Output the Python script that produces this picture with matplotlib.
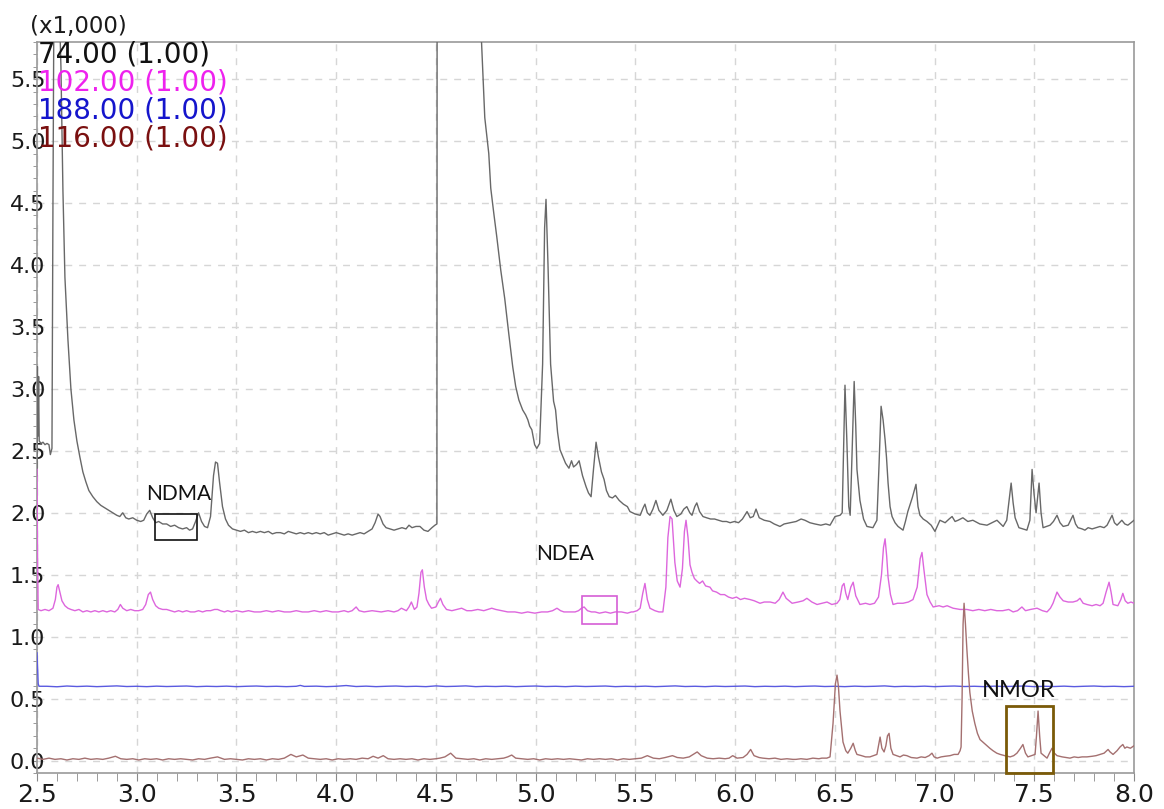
import matplotlib
matplotlib.use("Agg")
import matplotlib.pyplot as plt
from matplotlib.patches import Rectangle
from matplotlib.ticker import MultipleLocator, FormatStrFormatter

# retention time (min) / intensity (x1,000) for each monitored ion
tic74_t = [2.500, 2.502, 2.505, 2.508, 2.511, 2.520, 2.530, 2.540, 2.550, 2.560, 2.567, 2.575, 2.580, 2.585,
           2.610, 2.620, 2.630, 2.640, 2.655, 2.670, 2.685, 2.700, 2.715, 2.730, 2.745, 2.760, 2.780, 2.800,
           2.820, 2.840, 2.860, 2.880, 2.900, 2.915, 2.930, 2.945, 2.960, 2.980, 3.000, 3.020, 3.035, 3.050,
           3.065, 3.080, 3.095, 3.110, 3.130, 3.150, 3.170, 3.190, 3.210, 3.230, 3.250, 3.265, 3.280, 3.295,
           3.310, 3.325, 3.340, 3.355, 3.370, 3.385, 3.395, 3.405, 3.415, 3.430, 3.445, 3.460, 3.480, 3.500,
           3.520, 3.540, 3.560, 3.580, 3.600, 3.620, 3.640, 3.660, 3.680, 3.700, 3.720, 3.740, 3.760, 3.780,
           3.800, 3.820, 3.840, 3.860, 3.880, 3.900, 3.920, 3.940, 3.960, 3.980, 4.000, 4.020, 4.040, 4.060,
           4.080, 4.100, 4.120, 4.140, 4.160, 4.180, 4.195, 4.210, 4.220, 4.235, 4.250, 4.270, 4.290, 4.310,
           4.330, 4.350, 4.365, 4.380, 4.400, 4.420, 4.440, 4.460, 4.480, 4.495, 4.505, 4.506, 4.715, 4.729,
           4.745, 4.765, 4.775, 4.790, 4.805, 4.825, 4.845, 4.865, 4.885, 4.900, 4.916, 4.935, 4.950, 4.961,
           4.970, 4.981, 4.995, 5.006, 5.020, 5.035, 5.045, 5.052, 5.062, 5.075, 5.090, 5.100, 5.110, 5.122,
           5.135, 5.150, 5.167, 5.180, 5.190, 5.205, 5.218, 5.235, 5.253, 5.265, 5.278, 5.290, 5.303, 5.315,
           5.330, 5.343, 5.355, 5.369, 5.385, 5.400, 5.419, 5.440, 5.460, 5.473, 5.499, 5.524, 5.539, 5.548,
           5.560, 5.573, 5.588, 5.603, 5.618, 5.638, 5.658, 5.678, 5.693, 5.708, 5.728, 5.743, 5.758, 5.773,
           5.784, 5.798, 5.808, 5.822, 5.839, 5.857, 5.877, 5.897, 5.917, 5.937, 5.957, 5.975, 5.997, 6.017,
           6.037, 6.060, 6.076, 6.091, 6.105, 6.121, 6.146, 6.175, 6.196, 6.225, 6.246, 6.276, 6.306, 6.331,
           6.350, 6.375, 6.400, 6.430, 6.455, 6.476, 6.501, 6.526, 6.537, 6.545, 6.551, 6.560, 6.570, 6.577,
           6.585, 6.597, 6.605, 6.611, 6.626, 6.644, 6.661, 6.691, 6.711, 6.722, 6.732, 6.742, 6.752, 6.759,
           6.767, 6.777, 6.787, 6.802, 6.817, 6.842, 6.854, 6.866, 6.888, 6.907, 6.917, 6.927, 6.943, 6.962,
           6.983, 7.002, 7.027, 7.053, 7.073, 7.088, 7.103, 7.118, 7.142, 7.167, 7.192, 7.227, 7.263, 7.288,
           7.313, 7.332, 7.344, 7.362, 7.374, 7.384, 7.394, 7.404, 7.423, 7.443, 7.463, 7.478, 7.489, 7.499,
           7.509, 7.524, 7.534, 7.544, 7.561, 7.579, 7.596, 7.614, 7.629, 7.645, 7.670, 7.694, 7.707, 7.719,
           7.740, 7.754, 7.770, 7.790, 7.810, 7.830, 7.850, 7.865, 7.890, 7.902, 7.915, 7.939, 7.954, 7.969,
           7.985, 8.000]
tic74_v = [2.30, 3.18, 2.62, 3.10, 2.58, 2.56, 2.57, 2.55, 2.56, 2.55, 2.47, 2.52, 4.50, 6.20,
           6.20, 5.60, 4.60, 3.90, 3.40, 3.00, 2.75, 2.58, 2.45, 2.33, 2.25, 2.18, 2.13, 2.09,
           2.06, 2.04, 2.02, 2.00, 1.98, 1.97, 2.00, 1.96, 1.95, 1.96, 1.94, 1.93, 1.94, 1.99,
           2.02, 1.96, 1.92, 1.93, 1.91, 1.91, 1.89, 1.90, 1.88, 1.87, 1.88, 1.86, 1.87, 1.93,
           2.00, 1.93, 1.89, 1.88, 1.97, 2.30, 2.41, 2.40, 2.25, 2.05, 1.95, 1.90, 1.87, 1.86,
           1.85, 1.86, 1.84, 1.85, 1.84, 1.85, 1.84, 1.85, 1.83, 1.84, 1.84, 1.83, 1.85, 1.84,
           1.83, 1.84, 1.83, 1.84, 1.83, 1.84, 1.83, 1.84, 1.82, 1.83, 1.84, 1.83, 1.82, 1.83,
           1.82, 1.83, 1.84, 1.83, 1.85, 1.87, 1.92, 1.99, 1.97, 1.91, 1.88, 1.87, 1.86, 1.87,
           1.88, 1.87, 1.90, 1.88, 1.89, 1.89, 1.86, 1.85, 1.88, 1.90, 1.91, 6.20, 6.20, 5.79,
           5.19, 4.90, 4.62, 4.42, 4.23, 3.96, 3.73, 3.45, 3.18, 3.02, 2.91, 2.83, 2.79, 2.75,
           2.70, 2.67, 2.55, 2.52, 2.56, 3.20, 4.30, 4.53, 4.00, 3.20, 2.90, 2.83, 2.65, 2.51,
           2.46, 2.40, 2.36, 2.42, 2.37, 2.39, 2.42, 2.30, 2.21, 2.16, 2.13, 2.35, 2.57, 2.45,
           2.33, 2.27, 2.18, 2.13, 2.12, 2.14, 2.10, 2.07, 2.05, 2.01, 1.99, 1.98, 2.04, 2.07,
           2.00, 1.98, 2.03, 2.10, 2.02, 1.98, 2.02, 2.11, 2.02, 1.97, 1.99, 2.03, 2.05, 2.00,
           1.98, 2.05, 2.08, 2.01, 1.97, 1.96, 1.95, 1.95, 1.94, 1.93, 1.93, 1.92, 1.93, 1.92,
           1.95, 2.01, 1.96, 1.97, 2.03, 1.96, 1.94, 1.93, 1.91, 1.89, 1.91, 1.92, 1.93, 1.95,
           1.94, 1.92, 1.91, 1.90, 1.91, 1.90, 1.97, 1.98, 2.00, 2.60, 3.03, 2.60, 2.05, 1.98,
           2.40, 3.06, 2.70, 2.35, 2.10, 1.95, 1.89, 1.88, 1.94, 2.40, 2.86, 2.75, 2.59, 2.45,
           2.24, 2.05, 1.97, 1.92, 1.89, 1.86, 1.93, 2.01, 2.12, 2.23, 2.05, 1.98, 1.95, 1.93,
           1.90, 1.85, 1.94, 1.92, 1.95, 1.97, 1.93, 1.94, 1.96, 1.93, 1.94, 1.91, 1.90, 1.92,
           1.94, 1.91, 1.89, 1.94, 2.10, 2.24, 2.08, 1.96, 1.88, 1.87, 1.86, 1.94, 2.35, 2.15,
           2.00, 2.24, 2.00, 1.88, 1.89, 1.90, 1.93, 1.98, 1.92, 1.89, 1.90, 1.98, 1.91, 1.88,
           1.87, 1.86, 1.88, 1.87, 1.88, 1.89, 1.88, 1.90, 1.98, 1.92, 1.90, 1.94, 1.91, 1.90,
           1.92, 1.94]

tic102_t = [2.500, 2.503, 2.506, 2.520, 2.540, 2.560, 2.580, 2.592, 2.600, 2.606, 2.615, 2.625, 2.640,
            2.655, 2.670, 2.690, 2.710, 2.730, 2.750, 2.770, 2.790, 2.810, 2.830, 2.850, 2.870, 2.890,
            2.905, 2.918, 2.930, 2.950, 2.970, 2.990, 3.010, 3.030, 3.045, 3.058, 3.069, 3.080, 3.095,
            3.110, 3.130, 3.150, 3.170, 3.190, 3.210, 3.230, 3.250, 3.270, 3.290, 3.310, 3.330, 3.350,
            3.370, 3.390, 3.405, 3.420, 3.440, 3.456, 3.475, 3.500, 3.530, 3.560, 3.590, 3.620, 3.650,
            3.680, 3.710, 3.740, 3.770, 3.800, 3.830, 3.860, 3.890, 3.920, 3.950, 3.980, 4.010, 4.040,
            4.060, 4.080, 4.100, 4.115, 4.140, 4.180, 4.226, 4.260, 4.290, 4.310, 4.327, 4.352, 4.365,
            4.377, 4.392, 4.405, 4.415, 4.425, 4.432, 4.442, 4.453, 4.465, 4.478, 4.500, 4.512, 4.523,
            4.535, 4.553, 4.580, 4.605, 4.629, 4.655, 4.679, 4.710, 4.740, 4.760, 4.780, 4.800, 4.830,
            4.860, 4.896, 4.930, 4.960, 4.996, 5.030, 5.060, 5.085, 5.107, 5.125, 5.142, 5.170, 5.198,
            5.215, 5.230, 5.243, 5.260, 5.280, 5.298, 5.320, 5.350, 5.375, 5.399, 5.430, 5.460, 5.480,
            5.489, 5.509, 5.524, 5.537, 5.548, 5.560, 5.573, 5.598, 5.618, 5.638, 5.653, 5.663, 5.674,
            5.684, 5.698, 5.710, 5.724, 5.736, 5.746, 5.754, 5.764, 5.774, 5.784, 5.796, 5.808, 5.822,
            5.837, 5.852, 5.874, 5.887, 5.907, 5.927, 5.947, 5.967, 5.987, 6.007, 6.027, 6.047, 6.075,
            6.096, 6.125, 6.146, 6.176, 6.201, 6.221, 6.240, 6.256, 6.286, 6.316, 6.341, 6.360, 6.385,
            6.411, 6.435, 6.461, 6.485, 6.511, 6.525, 6.537, 6.546, 6.555, 6.565, 6.580, 6.592, 6.605,
            6.626, 6.654, 6.676, 6.699, 6.719, 6.734, 6.744, 6.752, 6.760, 6.767, 6.779, 6.792, 6.814,
            6.842, 6.869, 6.892, 6.913, 6.928, 6.937, 6.946, 6.962, 6.978, 6.993, 7.023, 7.043, 7.063,
            7.093, 7.128, 7.162, 7.192, 7.222, 7.252, 7.282, 7.312, 7.342, 7.372, 7.394, 7.416, 7.438,
            7.456, 7.481, 7.514, 7.541, 7.564, 7.581, 7.594, 7.614, 7.629, 7.645, 7.670, 7.694, 7.715,
            7.729, 7.745, 7.764, 7.790, 7.810, 7.830, 7.845, 7.860, 7.875, 7.885, 7.895, 7.919, 7.934,
            7.944, 7.956, 7.969, 7.985, 8.000]
tic102_v = [2.35, 1.60, 1.22, 1.21, 1.22, 1.21, 1.23, 1.30, 1.40, 1.42, 1.36, 1.29, 1.25,
            1.23, 1.22, 1.21, 1.22, 1.20, 1.21, 1.20, 1.21, 1.20, 1.21, 1.20, 1.21, 1.20,
            1.22, 1.26, 1.23, 1.21, 1.22, 1.21, 1.21, 1.22, 1.26, 1.34, 1.36, 1.30, 1.25,
            1.23, 1.22, 1.22, 1.21, 1.20, 1.21, 1.20, 1.21, 1.20, 1.20, 1.21, 1.20, 1.21,
            1.21, 1.22, 1.22, 1.21, 1.20, 1.21, 1.20, 1.21, 1.20, 1.21, 1.20, 1.20, 1.21,
            1.20, 1.21, 1.20, 1.20, 1.21, 1.20, 1.20, 1.21, 1.20, 1.21, 1.20, 1.20, 1.21,
            1.20, 1.21, 1.24, 1.21, 1.20, 1.21, 1.20, 1.21, 1.20, 1.21, 1.23, 1.21, 1.24,
            1.28, 1.22, 1.24, 1.35, 1.52, 1.54, 1.40, 1.30, 1.26, 1.23, 1.24, 1.28, 1.31,
            1.26, 1.22, 1.21, 1.22, 1.23, 1.21, 1.21, 1.22, 1.21, 1.22, 1.23, 1.22, 1.21,
            1.20, 1.20, 1.19, 1.20, 1.19, 1.20, 1.20, 1.21, 1.23, 1.21, 1.20, 1.20, 1.20,
            1.21, 1.23, 1.24, 1.21, 1.20, 1.20, 1.19, 1.20, 1.19, 1.20, 1.20, 1.19, 1.20,
            1.20, 1.21, 1.23, 1.35, 1.43, 1.30, 1.23, 1.21, 1.20, 1.20, 1.40, 1.80, 1.97,
            1.95, 1.60, 1.45, 1.40, 1.55, 1.85, 1.94, 1.80, 1.58, 1.52, 1.47, 1.45, 1.43,
            1.45, 1.41, 1.40, 1.37, 1.36, 1.34, 1.34, 1.32, 1.31, 1.32, 1.30, 1.31, 1.30,
            1.29, 1.27, 1.28, 1.28, 1.27, 1.30, 1.36, 1.31, 1.27, 1.28, 1.29, 1.31, 1.28,
            1.26, 1.27, 1.28, 1.26, 1.27, 1.30, 1.41, 1.43, 1.35, 1.30, 1.40, 1.44, 1.33,
            1.26, 1.27, 1.26, 1.27, 1.32, 1.50, 1.72, 1.79, 1.65, 1.48, 1.34, 1.26, 1.27,
            1.27, 1.28, 1.30, 1.40, 1.63, 1.68, 1.55, 1.34, 1.28, 1.24, 1.25, 1.24, 1.25,
            1.23, 1.22, 1.22, 1.21, 1.22, 1.21, 1.22, 1.21, 1.21, 1.22, 1.20, 1.21, 1.24,
            1.21, 1.22, 1.23, 1.21, 1.20, 1.23, 1.27, 1.36, 1.32, 1.29, 1.28, 1.28, 1.29,
            1.31, 1.27, 1.26, 1.25, 1.26, 1.25, 1.27, 1.36, 1.44, 1.36, 1.26, 1.25, 1.30,
            1.35, 1.29, 1.27, 1.28, 1.27]

tic188_t = [2.500, 2.503, 2.506, 2.510, 2.550, 2.600, 2.650, 2.700, 2.750, 2.800, 2.850, 2.900, 2.950,
            3.000, 3.050, 3.100, 3.150, 3.200, 3.250, 3.300, 3.350, 3.400, 3.450, 3.500, 3.550, 3.600,
            3.650, 3.700, 3.750, 3.800, 3.820, 3.840, 3.900, 3.950, 4.000, 4.050, 4.100, 4.150, 4.200,
            4.250, 4.300, 4.350, 4.400, 4.450, 4.500, 4.550, 4.600, 4.650, 4.700, 4.750, 4.800, 4.850,
            4.900, 4.950, 5.000, 5.050, 5.100, 5.150, 5.200, 5.250, 5.300, 5.350, 5.400, 5.450, 5.500,
            5.550, 5.600, 5.650, 5.700, 5.750, 5.800, 5.850, 5.900, 5.950, 6.000, 6.050, 6.100, 6.150,
            6.200, 6.250, 6.300, 6.350, 6.400, 6.450, 6.500, 6.550, 6.600, 6.650, 6.700, 6.750, 6.800,
            6.850, 6.900, 6.950, 7.000, 7.050, 7.100, 7.150, 7.200, 7.250, 7.300, 7.350, 7.400, 7.450,
            7.500, 7.550, 7.600, 7.650, 7.700, 7.750, 7.800, 7.850, 7.900, 7.950, 8.000]
tic188_v = [0.87, 0.75, 0.62, 0.600, 0.600, 0.596, 0.602, 0.598, 0.601, 0.597, 0.600, 0.603, 0.598,
            0.600, 0.597, 0.601, 0.598, 0.600, 0.602, 0.597, 0.600, 0.598, 0.601, 0.597, 0.600, 0.602,
            0.598, 0.600, 0.597, 0.600, 0.607, 0.599, 0.601, 0.597, 0.600, 0.606, 0.598, 0.601, 0.597,
            0.600, 0.602, 0.598, 0.600, 0.597, 0.603, 0.598, 0.600, 0.603, 0.597, 0.600, 0.598, 0.601,
            0.597, 0.600, 0.602, 0.598, 0.600, 0.597, 0.601, 0.598, 0.600, 0.602, 0.597, 0.600, 0.598,
            0.601, 0.597, 0.600, 0.603, 0.598, 0.600, 0.597, 0.601, 0.598, 0.600, 0.602, 0.597, 0.600,
            0.598, 0.601, 0.597, 0.600, 0.602, 0.598, 0.600, 0.597, 0.601, 0.598, 0.600, 0.603, 0.597,
            0.600, 0.598, 0.601, 0.597, 0.600, 0.602, 0.598, 0.600, 0.597, 0.601, 0.598, 0.600, 0.602,
            0.597, 0.600, 0.598, 0.601, 0.597, 0.600, 0.602, 0.598, 0.600, 0.597, 0.600]

tic116_t = [2.50, 2.53, 2.56, 2.59, 2.62, 2.65, 2.68, 2.71, 2.74, 2.77, 2.80, 2.83, 2.86, 2.893, 2.92,
            2.95, 2.98, 3.01, 3.04, 3.07, 3.10, 3.13, 3.16, 3.19, 3.22, 3.25, 3.28, 3.31, 3.34, 3.37,
            3.405, 3.44, 3.47, 3.50, 3.53, 3.56, 3.59, 3.62, 3.65, 3.68, 3.71, 3.74, 3.773, 3.80, 3.833,
            3.86, 3.89, 3.92, 3.95, 3.98, 4.01, 4.04, 4.07, 4.10, 4.13, 4.16, 4.185, 4.21, 4.236, 4.26,
            4.29, 4.32, 4.35, 4.38, 4.41, 4.44, 4.47, 4.50, 4.52, 4.545, 4.574, 4.60, 4.63, 4.66, 4.69,
            4.72, 4.75, 4.78, 4.81, 4.84, 4.86, 4.88, 4.90, 4.93, 4.96, 4.99, 5.02, 5.05, 5.08, 5.11,
            5.14, 5.17, 5.20, 5.23, 5.26, 5.29, 5.32, 5.35, 5.38, 5.41, 5.44, 5.47, 5.50, 5.53, 5.56,
            5.59, 5.62, 5.65, 5.686, 5.71, 5.74, 5.77, 5.79, 5.81, 5.83, 5.86, 5.89, 5.92, 5.95, 5.97,
            5.988, 6.01, 6.04, 6.06, 6.078, 6.095, 6.12, 6.139, 6.17, 6.20, 6.23, 6.26, 6.29, 6.305,
            6.33, 6.36, 6.39, 6.42, 6.435, 6.460, 6.476, 6.491, 6.503, 6.511, 6.518, 6.526, 6.541, 6.555,
            6.565, 6.580, 6.592, 6.603, 6.611, 6.634, 6.654, 6.676, 6.694, 6.711, 6.719, 6.727, 6.736,
            6.747, 6.756, 6.764, 6.772, 6.781, 6.792, 6.809, 6.827, 6.844, 6.861, 6.883, 6.912, 6.933,
            6.953, 6.973, 6.987, 6.998, 7.013, 7.033, 7.053, 7.078, 7.098, 7.118, 7.128, 7.133, 7.138, 7.143,
            7.148, 7.155, 7.162, 7.170, 7.177, 7.189, 7.202, 7.215, 7.228, 7.242, 7.263, 7.277, 7.293,
            7.312, 7.329, 7.352, 7.379, 7.397, 7.413, 7.431, 7.443, 7.456, 7.468, 7.486, 7.504, 7.511,
            7.519, 7.527, 7.534, 7.549, 7.564, 7.576, 7.589, 7.601, 7.614, 7.640, 7.660, 7.679, 7.700,
            7.720, 7.740, 7.764, 7.790, 7.810, 7.830, 7.850, 7.870, 7.880, 7.895, 7.915, 7.930, 7.944, 7.954,
            7.964, 7.982, 8.000]
tic116_v = [0.02, 0.01, 0.02, 0.01, 0.015, 0.005, 0.015, 0.01, 0.02, 0.01, 0.015, 0.01, 0.02, 0.035, 0.015,
            0.01, 0.015, 0.005, 0.015, 0.01, 0.015, 0.005, 0.015, 0.01, 0.015, 0.01, 0.005, 0.015, 0.01, 0.02,
            0.03, 0.01, 0.015, 0.01, 0.005, 0.015, 0.01, 0.015, 0.005, 0.015, 0.01, 0.02, 0.05, 0.03, 0.045,
            0.02, 0.015, 0.01, 0.015, 0.005, 0.015, 0.01, 0.015, 0.01, 0.02, 0.015, 0.035, 0.02, 0.04, 0.015,
            0.01, 0.015, 0.01, 0.015, 0.005, 0.015, 0.01, 0.015, 0.02, 0.03, 0.06, 0.02, 0.015, 0.01, 0.015,
            0.005, 0.015, 0.01, 0.015, 0.02, 0.03, 0.045, 0.02, 0.015, 0.01, 0.015, 0.005, 0.015, 0.01, 0.015,
            0.01, 0.015, 0.01, 0.005, 0.015, 0.01, 0.015, 0.01, 0.015, 0.005, 0.015, 0.01, 0.015, 0.02, 0.04,
            0.02, 0.015, 0.025, 0.04, 0.025, 0.02, 0.03, 0.05, 0.07, 0.04, 0.02, 0.015, 0.02, 0.015, 0.02,
            0.04, 0.02, 0.025, 0.05, 0.09, 0.04, 0.025, 0.02, 0.015, 0.02, 0.01, 0.015, 0.01, 0.01,
            0.015, 0.01, 0.02, 0.015, 0.02, 0.02, 0.03, 0.30, 0.62, 0.69, 0.60, 0.40, 0.15, 0.08,
            0.06, 0.10, 0.14, 0.08, 0.05, 0.04, 0.03, 0.03, 0.04, 0.05, 0.12, 0.19, 0.10,
            0.07, 0.12, 0.20, 0.22, 0.10, 0.05, 0.04, 0.03, 0.045, 0.04, 0.025, 0.02, 0.03,
            0.025, 0.04, 0.06, 0.03, 0.02, 0.03, 0.035, 0.04, 0.05, 0.05, 0.08, 0.11, 0.50, 1.10,
            1.27, 1.10, 0.90, 0.70, 0.55, 0.40, 0.30, 0.22, 0.17, 0.15, 0.12, 0.10, 0.08,
            0.06, 0.05, 0.04, 0.03, 0.04, 0.06, 0.10, 0.13, 0.06, 0.03, 0.04, 0.05, 0.20,
            0.40, 0.20, 0.06, 0.04, 0.02, 0.06, 0.10, 0.06, 0.04, 0.03, 0.025, 0.02, 0.03,
            0.025, 0.03, 0.03, 0.035, 0.04, 0.05, 0.06, 0.09, 0.07, 0.05, 0.08, 0.11, 0.13, 0.10,
            0.11, 0.10, 0.12]

ion_labels = ["74.00 (1.00)", "102.00 (1.00)", "188.00 (1.00)", "116.00 (1.00)"]
label_colors = ["#111111", "#ee22ee", "#1515cc", "#7a1010"]
trace_colors = ["#686868", "#dd66dd", "#5a5ae0", "#a47070"]

# marked analyte windows: (name, t_start, t_end, y_low, y_high)
windows = [("NDMA", 3.092, 3.302, 1.78, 1.99),
           ("NDEA", 5.232, 5.408, 1.10, 1.33),
           ("NMOR", 7.358, 7.594, -0.10, 0.44)]

fig = plt.figure(figsize=(11.64, 8.09), dpi=100)
ax = fig.add_axes([37 / 1164, 36 / 809, 1097 / 1164, 731 / 809])

traces = [(tic74_t, tic74_v), (tic102_t, tic102_v), (tic188_t, tic188_v), (tic116_t, tic116_v)]
for (t, v), c in zip(traces, trace_colors):
    ax.plot(t, v, color=c, lw=1.0, zorder=3)

ax.set_xlim(2.5, 8.0)
ax.set_ylim(-0.1, 5.8)

ax.xaxis.set_major_locator(MultipleLocator(0.5))
ax.xaxis.set_minor_locator(MultipleLocator(0.1))
ax.yaxis.set_major_locator(MultipleLocator(0.5))
ax.yaxis.set_minor_locator(MultipleLocator(0.1))
ax.xaxis.set_major_formatter(FormatStrFormatter("%.1f"))
ax.yaxis.set_major_formatter(FormatStrFormatter("%.1f"))

ax.grid(True, which="major", color="#d6d6d6", lw=1.0, ls=(0, (5, 5)), zorder=0)
for s in ax.spines.values():
    s.set_color("#9a9a9a")
    s.set_linewidth(1.2)

ax.tick_params(axis="x", which="both", direction="out", length=5.5, color="#8a8a8a",
               labelsize=18, pad=2, labelcolor="#1a1a1a")
ax.tick_params(axis="y", which="both", direction="out", length=3, color="#8a8a8a",
               labelsize=16, pad=-9, labelcolor="#1a1a1a")

# analyte windows and names
win_edges = ["#111111", "#d65ed6", "#7a5a08"]
win_lw = [1.2, 1.2, 2.0]
for (name, t0, t1, y0, y1), ec, lw in zip(windows, win_edges, win_lw):
    ax.add_patch(Rectangle((t0, y0), t1 - t0, y1 - y0, fill=False, ec=ec, lw=lw,
                           zorder=4, clip_on=False))

ax.text(3.212, 2.15, "NDMA", fontsize=15, family="Lato", ha="center", va="center", color="#111111")
ax.text(5.147, 1.67, "NDEA", fontsize=15, family="Lato", ha="center", va="center", color="#111111")
ax.text(7.424, 0.565, "NMOR", fontsize=17, family="Lato", ha="center", va="center", color="#111111")

# scale factor and ion list in the upper left corner
fig.text(30 / 1164, 1 - 26 / 809, "(x1,000)", fontsize=16.5, ha="left", va="center", color="#1a1a1a")
for i, (txt, c) in enumerate(zip(ion_labels, label_colors)):
    fig.text(38 / 1164, 1 - (63 + 28 * i) / 809, txt, fontsize=20, ha="left", va="baseline",
             color=c, zorder=10)

fig.savefig("out.png", dpi=100)
